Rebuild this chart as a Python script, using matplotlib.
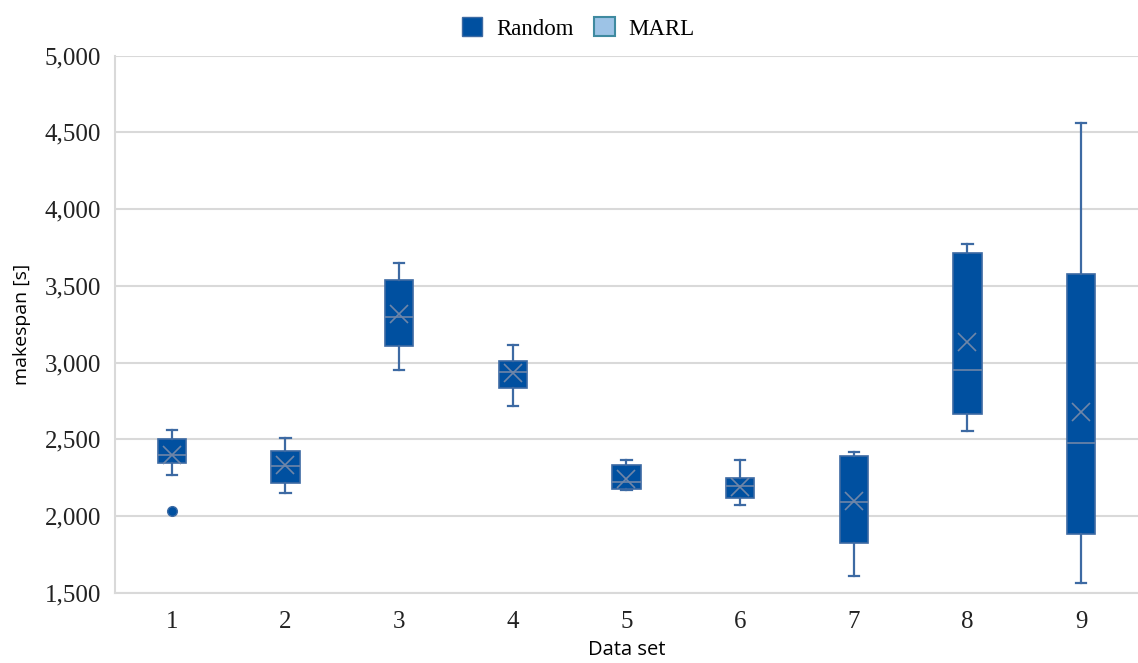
import numpy as np
import matplotlib.pyplot as plt
from matplotlib.patches import Patch

# values (makespan in seconds)
data_sets = ['1', '2', '3', '4', '5', '6', '7', '8', '9']
whisker_low = [2270, 2150, 2950, 2720, 2170, 2072, 1610, 2555, 1563]
q1 = [2347, 2213, 3108, 2832, 2174, 2115, 1823, 2666, 1885]
median = [2400, 2328, 3300, 2941, 2219, 2193, 2092, 2950, 2475]
q3 = [2505, 2421, 3541, 3008, 2332, 2245, 2393, 3715, 3580]
whisker_high = [2562, 2510, 3650, 3116, 2364, 2362, 2419, 3773, 4560]
mean = [2400, 2330, 3316, 2935, 2241, 2187, 2095, 3136, 2679]
outliers = [[2035], [], [], [], [], [], [], [], []]

RANDOM_FILL = '#0050a0'
RANDOM_EDGE = '#3d6aa3'
MARL_FILL = '#9dc3e6'
MARL_EDGE = '#3f8aa0'
GRID = '#d9d9d9'

stats = []
for i in range(len(data_sets)):
    stats.append({'whislo': whisker_low[i], 'q1': q1[i], 'med': median[i], 'q3': q3[i],
                  'whishi': whisker_high[i], 'mean': mean[i], 'fliers': outliers[i],
                  'label': data_sets[i]})

fig = plt.figure(figsize=(11.38, 6.63), dpi=100)
ax = fig.add_axes([0.101, 0.106, 0.899, 0.81])

ax.bxp(stats, positions=np.arange(1, len(data_sets) + 1), widths=0.25,
       showmeans=True, patch_artist=True, zorder=3,
       boxprops=dict(facecolor=RANDOM_FILL, edgecolor=RANDOM_EDGE, linewidth=1.2),
       medianprops=dict(color='#6f86a8', linewidth=1.2),
       whiskerprops=dict(color=RANDOM_EDGE, linewidth=1.6),
       capprops=dict(color=RANDOM_EDGE, linewidth=1.6),
       capwidths=0.09,
       meanprops=dict(marker='x', markersize=13, markeredgecolor='#6f86a8',
                      markeredgewidth=1.2),
       flierprops=dict(marker='o', markersize=7, markerfacecolor=RANDOM_FILL,
                       markeredgecolor=RANDOM_EDGE))

ax.set_xlim(0.5, 9.5)
ax.set_ylim(1500, 5000)
ax.set_yticks(np.arange(1500, 5001, 500))
ax.yaxis.set_major_formatter(plt.FuncFormatter(lambda v, p: f'{int(v):,}'))
ax.grid(axis='y', color=GRID, linewidth=1.5, zorder=0)
ax.set_axisbelow(True)

for s in ['top', 'right']:
    ax.spines[s].set_visible(False)
for s in ['left', 'bottom']:
    ax.spines[s].set_color(GRID)
    ax.spines[s].set_linewidth(1.5)
ax.tick_params(axis='y', length=0, pad=10)
ax.tick_params(axis='x', length=0, pad=13)
for lbl in ax.get_xticklabels() + ax.get_yticklabels():
    lbl.set_fontfamily('Liberation Serif')
    lbl.set_fontsize(18)
    lbl.set_color('#222222')

ax.set_xlabel('Data set', fontfamily='Open Sans', fontsize=14.5, labelpad=5)
ax.set_ylabel('makespan [s]', fontfamily='Open Sans', fontsize=14, labelpad=10)

handles = [Patch(facecolor=RANDOM_FILL, edgecolor=RANDOM_EDGE, label='Random'),
           Patch(facecolor=MARL_FILL, edgecolor=MARL_EDGE, linewidth=1.5, label='MARL')]
fig.legend(handles=handles, loc='upper center', bbox_to_anchor=(0.508, 1.005), ncol=2,
           frameon=False, prop={'family': 'Liberation Serif', 'size': 16.5},
           handlelength=0.9, handleheight=0.9, handletextpad=0.6, columnspacing=0.9)

fig.savefig('out.png', dpi=100)
